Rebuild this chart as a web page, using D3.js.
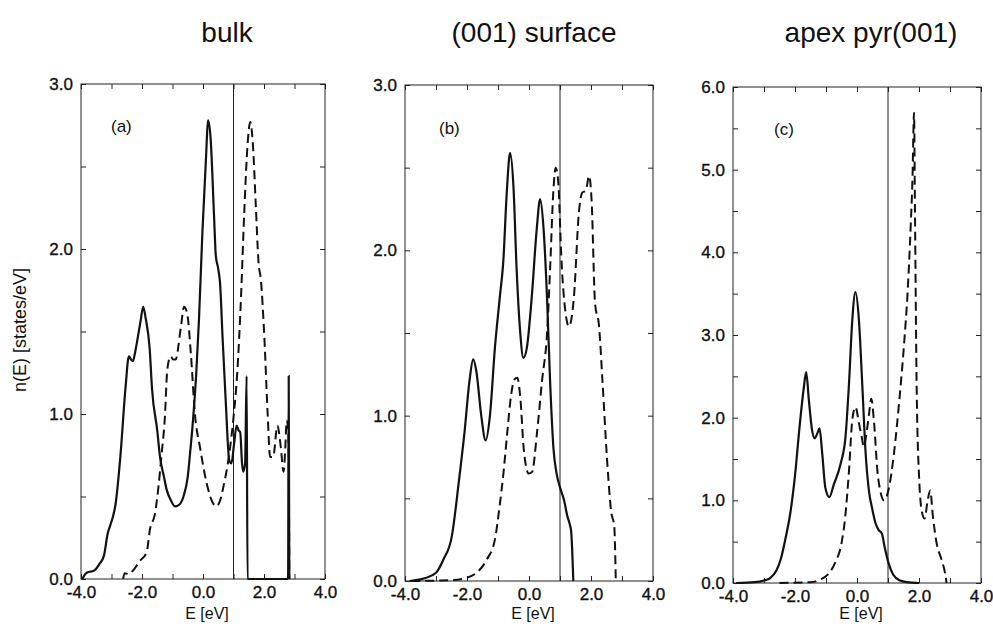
<!DOCTYPE html>
<html>
<head>
<meta charset="utf-8">
<script src="https://d3js.org/d3.v7.min.js"></script>
<style>
  body { margin: 0; background: #fff; }
  text { font-family: "Liberation Sans", Arial, Helvetica, sans-serif; fill: #111; }
</style>
</head>
<body>
<div id="chart"></div>
<script>
// panel titles and axis labels
var panelTitles = ["bulk", "(001) surface", "apex pyr(001)"];
var panelTags = ["(a)", "(b)", "(c)"];
var yMaxes = [3, 3, 6];
var xTickValues = [-4, -3, -2, -1, 0, 1, 2, 3, 4];
var fermiE = 1.0;

// (a) bulk
var aSolidE = [-3.95, -3.9, -3.8, -3.58, -3.4, -3.25, -3.12, -3.05, -2.95, -2.87, -2.71, -2.54, -2.43, -2.36, -2.3, -2.21, -2.05, -1.96, -1.88, -1.75, -1.67, -1.5, -1.41, -1.28, -1.19, -1.06, -0.92, -0.78, -0.64, -0.5, -0.43, -0.32, -0.22, -0.13, -0.02, 0.09, 0.17, 0.25, 0.36, 0.42, 0.5, 0.56, 0.64, 0.75, 0.86, 0.93, 1.02, 1.1, 1.17, 1.22, 1.28, 1.32, 1.38, 1.43, 1.46, 2.79, 2.81, 2.83];
var aSolidN = [0, 0.02, 0.04, 0.05, 0.09, 0.14, 0.28, 0.32, 0.38, 0.45, 0.74, 1.16, 1.35, 1.33, 1.32, 1.39, 1.56, 1.65, 1.58, 1.4, 1.15, 0.9, 0.74, 0.62, 0.54, 0.48, 0.44, 0.45, 0.5, 0.62, 0.75, 0.98, 1.25, 1.58, 2.1, 2.52, 2.78, 2.67, 2.21, 1.96, 1.88, 1.79, 1.47, 1.06, 0.72, 0.7, 0.82, 0.93, 0.9, 0.89, 0.7, 0.65, 0.7, 1.23, 0, 0, 1.23, 0];
var aDashE = [-2.62, -2.57, -2.45, -2.3, -2.07, -1.85, -1.74, -1.57, -1.46, -1.36, -1.25, -1.17, -1.06, -0.98, -0.9, -0.73, -0.62, -0.51, -0.4, -0.26, -0.1, 0.12, 0.3, 0.43, 0.55, 0.67, 0.83, 0.99, 1.13, 1.24, 1.35, 1.46, 1.55, 1.63, 1.73, 1.82, 1.9, 2.01, 2.12, 2.2, 2.3, 2.44, 2.55, 2.64, 2.7, 2.74, 2.8, 2.83];
var aDashN = [0, 0.035, 0.03, 0.05, 0.11, 0.16, 0.3, 0.4, 0.56, 0.75, 0.98, 1.27, 1.35, 1.33, 1.33, 1.52, 1.65, 1.6, 1.37, 0.99, 0.8, 0.58, 0.47, 0.44, 0.47, 0.56, 0.72, 0.96, 1.27, 1.68, 2.21, 2.63, 2.77, 2.65, 2.27, 1.92, 1.81, 1.47, 1.0, 0.74, 0.74, 0.93, 0.8, 0.65, 0.8, 0.96, 0.9, 0];

// (b) (001) surface
var bSolidE = [-3.85, -3.5, -3.0, -2.76, -2.49, -2.27, -2.08, -1.92, -1.8, -1.7, -1.54, -1.4, -1.26, -1.1, -0.94, -0.83, -0.72, -0.61, -0.5, -0.4, -0.29, -0.18, -0.07, 0.09, 0.25, 0.36, 0.47, 0.58, 0.68, 0.79, 0.9, 1.01, 1.13, 1.24, 1.32, 1.36, 1.43];
var bSolidN = [0, 0.01, 0.05, 0.13, 0.27, 0.59, 0.9, 1.21, 1.34, 1.27, 1.0, 0.85, 1.0, 1.41, 1.72, 1.93, 2.34, 2.59, 2.38, 1.89, 1.52, 1.35, 1.41, 1.72, 2.13, 2.31, 2.13, 1.72, 1.21, 0.8, 0.64, 0.56, 0.49, 0.39, 0.34, 0.3, 0];
var bDashE = [-3.8, -2.5, -2.0, -1.69, -1.36, -1.1, -0.95, -0.82, -0.7, -0.58, -0.47, -0.38, -0.28, -0.17, -0.01, 0.1, 0.26, 0.42, 0.59, 0.69, 0.78, 0.86, 0.94, 1.05, 1.18, 1.29, 1.45, 1.61, 1.72, 1.83, 1.94, 2.02, 2.13, 2.26, 2.37, 2.53, 2.65, 2.75, 2.8];
var bDashN = [0, 0.005, 0.02, 0.05, 0.13, 0.25, 0.45, 0.66, 0.9, 1.12, 1.22, 1.23, 1.11, 0.8, 0.65, 0.66, 0.9, 1.21, 1.52, 1.93, 2.34, 2.5, 2.42, 1.93, 1.62, 1.54, 1.72, 2.23, 2.35, 2.36, 2.45, 2.3, 1.68, 1.54, 1.21, 0.7, 0.42, 0.33, 0];

// (c) apex pyr(001)
var cSolidE = [-3.9, -3.3, -3.0, -2.8, -2.6, -2.45, -2.3, -2.15, -2.0, -1.85, -1.72, -1.64, -1.55, -1.45, -1.37, -1.28, -1.21, -1.12, -1.02, -0.89, -0.75, -0.53, -0.37, -0.26, -0.15, -0.05, 0.06, 0.17, 0.28, 0.39, 0.49, 0.6, 0.7, 0.8, 0.9, 1.01, 1.17, 1.39, 1.6, 2.0];
var cSolidN = [0, 0.01, 0.03, 0.06, 0.15, 0.3, 0.55, 0.85, 1.3, 1.9, 2.35, 2.55, 2.2, 1.85, 1.75, 1.81, 1.87, 1.56, 1.15, 1.04, 1.19, 1.44, 1.77, 2.4, 3.19, 3.52, 3.19, 2.4, 1.56, 1.1, 0.9, 0.72, 0.64, 0.6, 0.42, 0.25, 0.1, 0.03, 0.01, 0];
var cDashE = [-2.5, -1.5, -1.2, -0.9, -0.7, -0.5, -0.38, -0.26, -0.15, -0.05, 0.06, 0.15, 0.22, 0.32, 0.39, 0.46, 0.55, 0.66, 0.76, 0.87, 1.03, 1.19, 1.36, 1.52, 1.63, 1.73, 1.79, 1.84, 1.87, 1.92, 2.0, 2.1, 2.18, 2.28, 2.36, 2.45, 2.57, 2.73, 2.84, 2.89];
var cDashN = [0, 0.01, 0.04, 0.12, 0.25, 0.48, 0.8, 1.35, 1.98, 2.13, 1.94, 1.77, 1.65, 1.85, 2.05, 2.23, 1.94, 1.35, 1.1, 1.0, 1.15, 1.56, 2.19, 2.9, 3.5, 4.3, 4.9, 5.69, 4.5, 2.5, 1.3, 0.85, 0.78, 1.0, 1.12, 0.8, 0.48, 0.28, 0.12, 0];

var panels = [
    { left: 81, right: 325, top: 84, bottom: 579, solid: [aSolidE, aSolidN], dash: [aDashE, aDashN], titleX: 227, tagX: 111, tagY: 132 },
    { left: 405, right: 653, top: 85, bottom: 581, solid: [bSolidE, bSolidN], dash: [bDashE, bDashN], titleX: 534, tagX: 439, tagY: 134 },
    { left: 733, right: 981, top: 87, bottom: 583, solid: [cSolidE, cSolidN], dash: [cDashE, cDashN], titleX: 871, tagX: 774, tagY: 135 }
];

var width = 993, height = 633;
var svg = d3.select("#chart").append("svg")
    .attr("width", width)
    .attr("height", height);

function zipPoints(pair) {
    return pair[0].map(function(e, i) { return [e, pair[1][i]]; });
}

panels.forEach(function(p, i) {
    var x = d3.scaleLinear().domain([-4, 4]).range([p.left, p.right]);
    var y = d3.scaleLinear().domain([0, yMaxes[i]]).range([p.bottom, p.top]);
    var yTicks = d3.range(0, yMaxes[i] + 0.001, 0.5);

    var g = svg.append("g").attr("class", "panel");

    // bottom axis with labels every 2 eV
    g.append("g")
        .attr("transform", "translate(0," + p.bottom + ")")
        .call(d3.axisBottom(x).tickValues(xTickValues).tickSize(-5).tickPadding(7)
            .tickFormat(function(d) { return d % 2 === 0 ? d.toFixed(1) : ""; }));
    g.append("g")
        .attr("transform", "translate(0," + p.top + ")")
        .call(d3.axisTop(x).tickValues(xTickValues).tickSize(-5).tickFormat(""));
    g.append("g")
        .attr("transform", "translate(" + p.left + ",0)")
        .call(d3.axisLeft(y).tickValues(yTicks).tickSize(-5).tickPadding(8)
            .tickFormat(function(d) { return d % 1 === 0 ? d.toFixed(1) : ""; }));
    g.append("g")
        .attr("transform", "translate(" + p.right + ",0)")
        .call(d3.axisRight(y).tickValues(yTicks).tickSize(-5).tickFormat(""));

    g.selectAll(".domain").remove();
    g.selectAll(".tick line").attr("stroke", "#222").attr("stroke-width", 1);
    g.selectAll(".tick text")
        .style("font-size", "17px")
        .style("font-family", "'Liberation Sans', Arial, sans-serif")
        .attr("fill", "#111")
        .attr("stroke", "#111")
        .attr("stroke-width", 0.35);

    // frame
    g.append("rect")
        .attr("x", p.left).attr("y", p.top)
        .attr("width", p.right - p.left).attr("height", p.bottom - p.top)
        .attr("fill", "none").attr("stroke", "#222").attr("stroke-width", 1);

    // Fermi level
    g.append("line")
        .attr("x1", x(fermiE)).attr("x2", x(fermiE))
        .attr("y1", p.top).attr("y2", p.bottom)
        .attr("stroke", "#222").attr("stroke-width", 1);

    var line = d3.line()
        .x(function(d) { return x(d[0]); })
        .y(function(d) { return y(d[1]); })
        .curve(d3.curveMonotoneX);

    g.append("path")
        .datum(zipPoints(p.dash))
        .attr("d", line)
        .attr("fill", "none")
        .attr("stroke", "#111")
        .attr("stroke-width", 2)
        .attr("stroke-dasharray", "9,5");

    g.append("path")
        .datum(zipPoints(p.solid))
        .attr("d", line)
        .attr("fill", "none")
        .attr("stroke", "#111")
        .attr("stroke-width", 2.2);

    g.append("text")
        .attr("x", p.tagX).attr("y", p.tagY)
        .style("font-size", "17px")
        .text(panelTags[i]);

    g.append("text")
        .attr("x", p.titleX).attr("y", 42)
        .attr("text-anchor", "middle")
        .style("font-size", "28px")
        .text(panelTitles[i]);

    g.append("text")
        .attr("x", (p.left + p.right) / 2 + 4).attr("y", 619)
        .attr("text-anchor", "middle")
        .style("font-size", "16px")
        .text("E [eV]");
});

svg.append("text")
    .attr("transform", "translate(26,330) rotate(-90)")
    .attr("text-anchor", "middle")
    .style("font-size", "18px")
    .text("n(E) [states/eV]");
</script>
</body>
</html>
